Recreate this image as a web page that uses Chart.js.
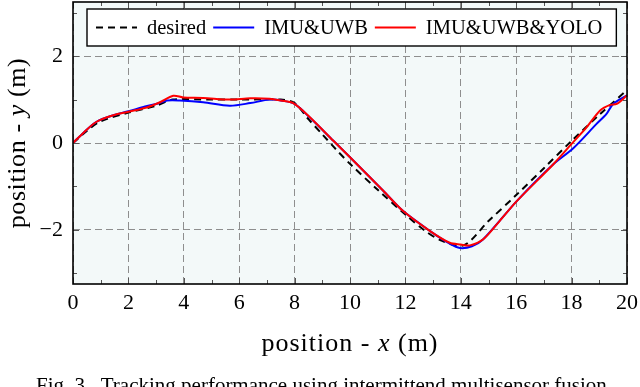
<!DOCTYPE html>
<html>
<head>
<meta charset="utf-8">
<script src="https://cdn.jsdelivr.net/npm/chart.js@4"></script>
<style>
  html, body { margin: 0; padding: 0; background: #fff; }
  #wrap { width: 640px; height: 387px; position: relative; }
</style>
</head>
<body>
<div id="wrap"><canvas id="track_chart"></canvas></div>
<script>
// data (metres)
var desiredX = [0, 0.5, 1, 2, 3, 3.6, 5, 6, 7.5, 8, 8.5, 9, 9.5, 10, 11, 12, 12.7, 13.3, 14.1, 15, 16, 17, 18, 19, 20];
var desiredY = [0, 0.28, 0.5, 0.7, 0.86, 1.0, 1.0, 1.0, 1.0, 0.92, 0.55, 0.2, -0.15, -0.48, -1.08, -1.65, -2.02, -2.25, -2.36, -1.8, -1.2, -0.58, 0.05, 0.65, 1.22];

var imuX = [0, 0.4, 0.85, 1.46, 2.0, 2.6, 3.0, 3.4, 3.86, 4.7, 5.66, 6.4, 7.1, 7.6, 8.0, 8.56, 9.4, 10, 11.2, 11.92, 12.89, 13.6, 13.97, 14.4, 14.81, 16.02, 17.34, 18.06, 18.9, 19.26, 19.5, 20];
var imuY = [0, 0.25, 0.49, 0.64, 0.73, 0.84, 0.9, 0.98, 0.98, 0.94, 0.86, 0.92, 1.0, 0.97, 0.9, 0.58, 0.05, -0.33, -1.1, -1.57, -2.03, -2.32, -2.42, -2.38, -2.22, -1.34, -0.49, -0.12, 0.44, 0.67, 0.9, 1.1];

var yoloX = [0, 0.4, 0.85, 1.46, 2.0, 2.66, 3.14, 3.62, 3.98, 4.7, 5.66, 6.4, 7.1, 7.5, 7.95, 8.56, 9.4, 10, 11.2, 11.92, 12.89, 13.6, 14.0, 14.33, 14.81, 15.4, 16.02, 17.34, 18.0, 18.54, 19.03, 19.39, 19.63, 20];
var yoloY = [0, 0.25, 0.49, 0.64, 0.72, 0.82, 0.94, 1.09, 1.05, 1.04, 1.0, 1.03, 1.02, 0.98, 0.92, 0.59, 0.05, -0.33, -1.1, -1.57, -2.03, -2.3, -2.34, -2.36, -2.22, -1.8, -1.34, -0.49, -0.02, 0.36, 0.75, 0.88, 0.9, 1.1];

var seriesNames = ["desired", "IMU&UWB", "IMU&UWB&YOLO"];
var xTicks = [0, 2, 4, 6, 8, 10, 12, 14, 16, 18, 20];
var yTicks = [-2, 0, 2];
var caption = "Fig. 3.  Tracking performance using intermittend multisensor fusion.";

function pts(xs, ys) {
  return xs.map(function (x, i) { return { x: x, y: ys[i] }; });
}

var SERIF = "'Liberation Serif', 'Times New Roman', serif";

// draws "text" pieces, some italic, centred at (cx, cy)
function drawMixed(ctx, parts, cx, cy, size, spacing) {
  var w = 0;
  ctx.letterSpacing = spacing + "px";
  parts.forEach(function (p) {
    ctx.font = (p.it ? "italic " : "") + size + "px " + SERIF;
    p.w = ctx.measureText(p.t).width;
    w += p.w;
  });
  var x = cx - w / 2;
  ctx.textAlign = "left";
  ctx.textBaseline = "middle";
  parts.forEach(function (p) {
    ctx.font = (p.it ? "italic " : "") + size + "px " + SERIF;
    ctx.fillText(p.t, x, cy);
    x += p.w;
  });
  ctx.letterSpacing = "0px";
}

var decor = {
  id: "decor",
  beforeDraw: function (chart) {
    var a = chart.chartArea, ctx = chart.ctx;
    ctx.save();
    ctx.fillStyle = "#f3f9f9";
    ctx.fillRect(a.left, a.top, a.right - a.left, a.bottom - a.top);
    ctx.restore();
  },
  afterDraw: function (chart) {
    var a = chart.chartArea, ctx = chart.ctx;
    var sx = chart.scales.x, sy = chart.scales.y;
    ctx.save();
    // inward tick marks, every 1 m
    ctx.strokeStyle = "#555";
    ctx.lineWidth = 1;
    ctx.beginPath();
    for (var v = 0; v <= 20; v++) {
      var len = v % 2 === 0 ? 6 : 4;
      var px = Math.round(sx.getPixelForValue(v)) + 0.5;
      ctx.moveTo(px, a.bottom); ctx.lineTo(px, a.bottom - len);
      ctx.moveTo(px, a.top); ctx.lineTo(px, a.top + len);
    }
    for (var u = -3; u <= 3; u++) {
      var l2 = u % 2 === 0 ? 6 : 4;
      var py = Math.round(sy.getPixelForValue(u)) + 0.5;
      ctx.moveTo(a.left, py); ctx.lineTo(a.left + l2, py);
      ctx.moveTo(a.right, py); ctx.lineTo(a.right - l2, py);
    }
    ctx.stroke();

    // frame
    ctx.strokeStyle = "#000";
    ctx.lineWidth = 1.6;
    ctx.strokeRect(a.left, a.top, a.right - a.left, a.bottom - a.top);

    // legend box inside the plot
    var ds = chart.data.datasets;
    ctx.font = "20.5px " + SERIF;
    var x = 96, ly = 27.5;
    var items = [];
    ds.forEach(function (d) {
      var tw = ctx.measureText(d.label).width;
      items.push({ d: d, x: x, tw: tw });
      x += 51 + tw + 7;
    });
    var boxRight = x - 7 + 14;
    ctx.fillStyle = "#fff";
    ctx.fillRect(87, 9, boxRight - 87, 37);
    ctx.lineWidth = 1.4;
    ctx.strokeStyle = "#000";
    ctx.strokeRect(87, 9, boxRight - 87, 37);
    items.forEach(function (it) {
      ctx.beginPath();
      ctx.setLineDash(it.d.borderDash || []);
      ctx.strokeStyle = it.d.borderColor;
      ctx.lineWidth = it.d.borderWidth;
      ctx.moveTo(it.x, ly); ctx.lineTo(it.x + 41, ly);
      ctx.stroke();
      ctx.setLineDash([]);
      ctx.fillStyle = "#000";
      ctx.textAlign = "left";
      ctx.textBaseline = "middle";
      ctx.fillText(it.d.label, it.x + 51, ly + 1);
    });

    // axis titles
    ctx.fillStyle = "#000";
    drawMixed(ctx, [{ t: "position - " }, { t: "x", it: true }, { t: " (m)" }], (a.left + a.right) / 2, 344, 26, 1);
    ctx.save();
    ctx.translate(18, (a.top + a.bottom) / 2);
    ctx.rotate(-Math.PI / 2);
    drawMixed(ctx, [{ t: "position - " }, { t: "y", it: true }, { t: " (m)" }], 0, 0, 26, 0.6);
    ctx.restore();

    // caption (cut off by the bottom edge, as in the figure)
    ctx.font = "21px " + SERIF;
    ctx.textAlign = "left";
    ctx.textBaseline = "alphabetic";
    ctx.fillText(caption, 36, 392);
    ctx.restore();
  }
};

var c1 = document.getElementById("track_chart").getContext("2d");

var track_chart = new Chart(c1, {
  type: "line",
  data: {
    datasets: [
      {
        label: seriesNames[0],
        data: pts(desiredX, desiredY),
        borderColor: "#000",
        borderWidth: 2,
        borderDash: [7, 5],
        order: 3
      },
      {
        label: seriesNames[1],
        data: pts(imuX, imuY),
        borderColor: "#0000ff",
        borderWidth: 2,
        order: 2
      },
      {
        label: seriesNames[2],
        data: pts(yoloX, yoloY),
        borderColor: "#ff0000",
        borderWidth: 2,
        order: 1
      }
    ]
  },
  options: {
    responsive: true,
    maintainAspectRatio: false,
    animation: false,
    parsing: false,
    layout: { padding: { top: 2, right: 13, left: 0, bottom: 0 } },
    elements: {
      point: { radius: 0 },
      line: { tension: 0.3, fill: false }
    },
    plugins: {
      legend: { display: false },
      tooltip: { enabled: false }
    },
    scales: {
      x: {
        type: "linear",
        min: 0,
        max: 20,
        afterFit: function (s) { s.height = 103; s.paddingLeft = 0; s.paddingRight = 0; },
        afterBuildTicks: function (s) { s.ticks = xTicks.map(function (v) { return { value: v }; }); },
        grid: { color: "#8e8e8e", lineWidth: 1, drawTicks: false },
        border: { display: false, dash: [7, 4] },
        ticks: {
          padding: 6,
          maxRotation: 0,
          color: "#000",
          font: { family: SERIF, size: 22 }
        }
      },
      y: {
        type: "linear",
        min: -3.25,
        max: 3.25,
        afterFit: function (s) { s.width = 73; s.paddingTop = 0; s.paddingBottom = 0; },
        afterBuildTicks: function (s) { s.ticks = yTicks.map(function (v) { return { value: v }; }); },
        grid: { color: "#8e8e8e", lineWidth: 1, drawTicks: false },
        border: { display: false, dash: [7, 4] },
        ticks: {
          padding: 10,
          color: "#000",
          font: { family: SERIF, size: 22 },
          callback: function (v) { return v < 0 ? "\u2212" + Math.abs(v) : String(v); }
        }
      }
    }
  },
  plugins: [decor]
});
</script>
</body>
</html>
